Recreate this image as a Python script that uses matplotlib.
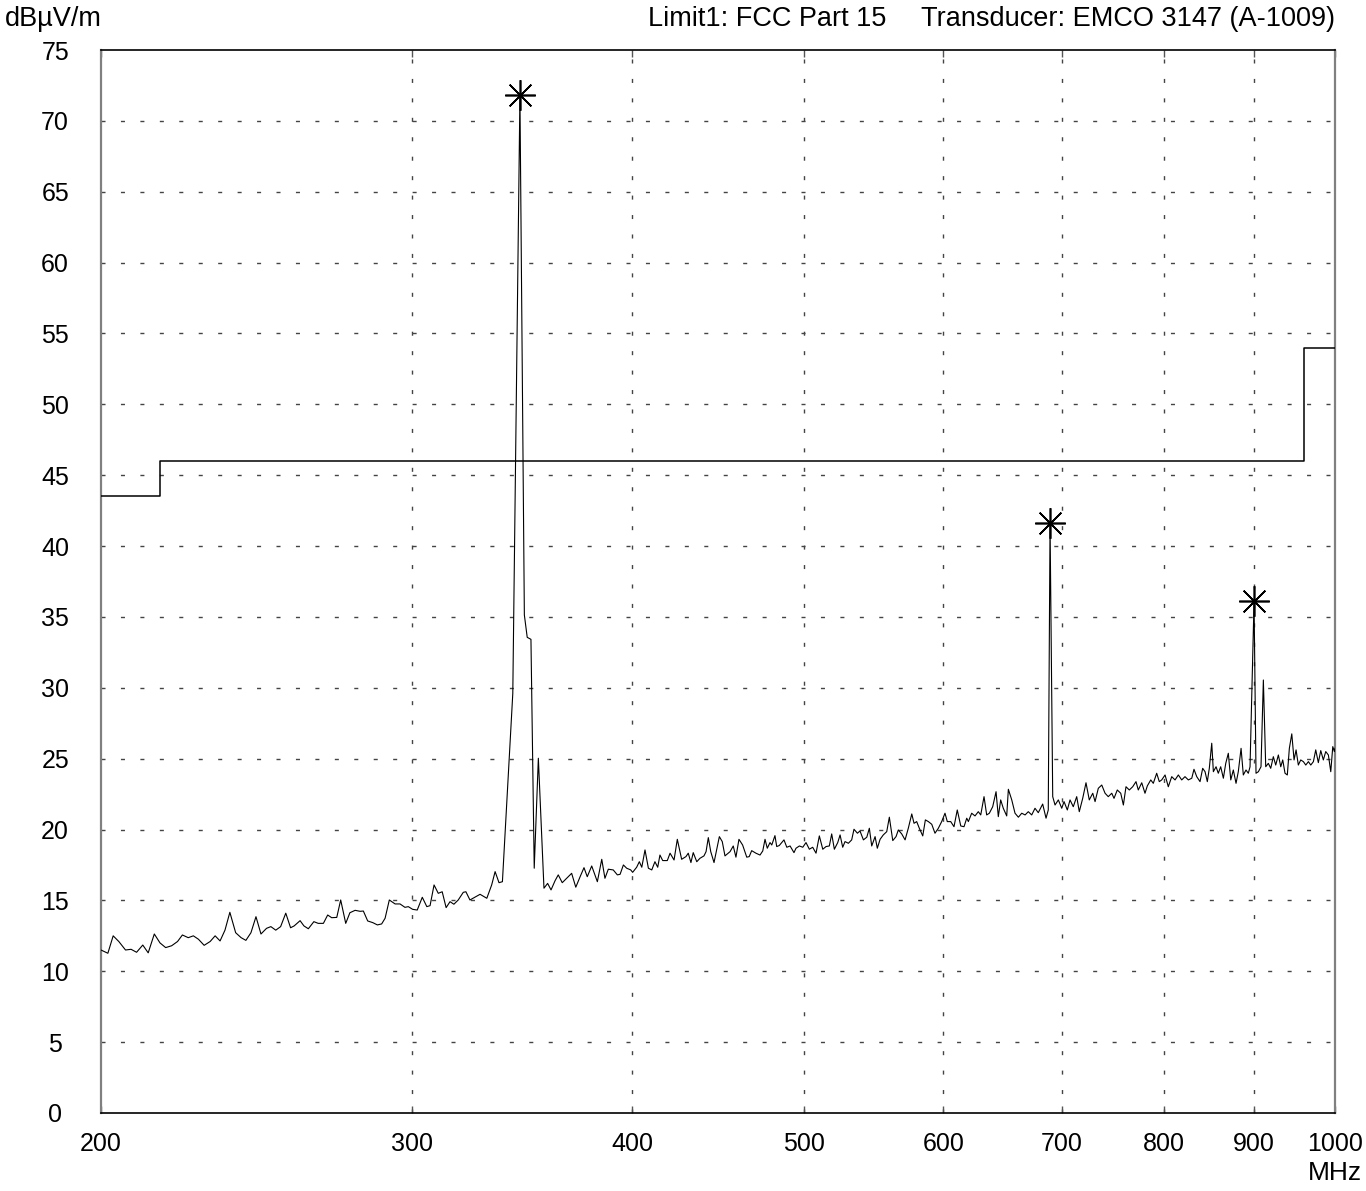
import matplotlib
matplotlib.use("Agg")
import numpy as np
import matplotlib.pyplot as plt

plt.rcParams['font.family'] = ['Liberation Sans', 'DejaVu Sans']

low_mhz = [200.0, 201.8, 203.2, 204.7, 206.5, 208.0, 209.5, 211.2, 212.7, 214.4,
           216.0, 217.6, 219.3, 221.0, 222.4, 224.1, 225.6, 227.1, 228.8, 230.6,
           232.1, 233.6, 235.1, 236.6, 238.4, 240.1, 241.6, 243.2, 244.8, 246.4,
           248.2, 249.6, 251.2, 252.8, 254.5, 256.1, 257.3, 259.3, 260.6, 262.1,
           264.0, 265.5, 267.3, 268.8, 270.2, 272.0, 273.4, 275.2, 276.7, 278.6,
           280.4, 281.6, 283.2, 285.1, 286.8, 288.4, 289.7, 291.3, 293.5, 295.4,
           297.3, 298.6, 300.3, 302.1, 304.1, 305.9, 307.2, 308.8, 310.5, 312.1,
           313.7, 315.3, 316.9, 318.7, 320.8, 321.9]
low_db = [11.5, 11.27, 12.5, 12.1, 11.5, 11.55, 11.34, 11.85, 11.3, 12.63,
          12.0, 11.67, 11.8, 12.1, 12.56, 12.37, 12.5, 12.26, 11.83, 12.1,
          12.5, 12.14, 12.9, 14.16, 12.72, 12.37, 12.18, 12.72, 13.85, 12.63,
          13.03, 13.15, 12.9, 13.15, 14.1, 13.07, 13.2, 13.57, 13.2, 13.0,
          13.5, 13.38, 13.38, 13.97, 13.78, 13.8, 15.03, 13.38, 14.13, 14.3,
          14.23, 14.25, 13.55, 13.43, 13.27, 13.34, 13.74, 15.03, 14.75, 14.75,
          14.51, 14.56, 14.37, 14.32, 15.22, 14.56, 14.63, 16.09, 15.5, 15.61,
          14.49, 14.91, 14.73, 15.03, 15.57, 15.61]

peak_mhz = [323.6, 327.9, 330.8, 332.9, 334.4, 336.1, 337.6, 342.2, 345.4, 347.4,
            348.7, 350.4, 351.9, 353.8, 356.4, 358.1, 359.7, 361.6, 363.1, 365.0,
            367.1, 369.5, 371.5]
peak_db = [15.03, 15.43, 15.15, 16.09, 17.03, 16.25, 16.32, 29.6, 71.8, 35.14,
           33.56, 33.42, 17.27, 25.03, 15.86, 16.2, 15.74, 16.39, 16.8, 16.25,
           16.56, 16.91, 15.93]

mid_mhz = [373.6, 375.5, 377.1, 379.3, 382.1, 384.3, 385.9, 387.6, 390.1, 392.2,
           393.6, 395.3, 397.0, 399.1, 400.1, 402.2, 403.6, 404.9, 406.6, 408.4,
           410.2, 411.9, 413.4, 414.6, 416.1, 418.6, 420.1, 422.3, 424.1, 426.5,
           428.9, 430.2, 431.7, 433.0, 435.0, 436.8, 439.1, 440.3, 441.6, 443.0,
           444.9, 448.0, 449.7, 451.3, 454.3, 456.2, 457.8, 459.6, 461.8, 464.3,
           465.8, 467.3, 469.9, 472.4, 474.1, 475.5, 476.9, 478.6, 479.7, 481.7,
           482.8, 484.4, 487.4, 489.2, 491.3, 493.8, 495.1, 497.3, 499.5, 501.6,
           503.8, 506.0, 508.2, 510.4, 512.7, 514.9, 517.1, 518.7, 520.5, 522.8,
           524.4, 526.2, 527.8, 530.1, 532.4, 534.0, 536.4, 538.2, 540.6, 543.0,
           544.8, 546.5, 548.9, 550.5, 552.5, 554.8, 557.3, 559.2, 561.7, 564.1,
           565.8, 568.3, 570.8, 573.2, 575.8, 577.5, 579.5, 581.5, 584.1, 586.1,
           588.4, 591.0, 593.5, 596.1, 598.7, 601.3, 603.1, 605.8, 608.4, 611.0,
           613.8, 616.4, 618.6]
mid_db = [16.67, 17.31, 16.67, 17.43, 16.32, 17.9, 16.56, 17.2, 17.15, 16.8,
          16.84, 17.5, 17.27, 17.15, 16.98, 17.34, 17.73, 17.34, 18.56, 17.27,
          17.15, 17.73, 17.34, 18.2, 17.81, 17.81, 18.33, 17.85, 19.31, 17.9,
          18.09, 18.33, 17.67, 18.37, 17.73, 17.97, 18.14, 18.44, 19.43, 18.44,
          17.67, 19.5, 19.15, 18.14, 18.44, 18.84, 18.05, 19.31, 18.91, 18.05,
          18.09, 18.51, 18.33, 18.2, 18.49, 19.31, 18.68, 19.08, 18.91, 19.57,
          18.8, 18.87, 19.27, 18.75, 18.84, 18.37, 18.68, 18.84, 18.75, 19.08,
          18.61, 18.75, 18.33, 19.55, 18.61, 18.8, 18.84, 19.69, 18.61, 19.08,
          19.62, 18.75, 19.15, 19.03, 19.27, 20.02, 19.74, 19.9, 19.27, 19.46,
          20.09, 18.84, 19.5, 18.68, 19.31, 19.62, 19.85, 20.87, 19.22, 19.5,
          19.97, 19.69, 19.27, 20.09, 21.1, 20.44, 20.56, 20.09, 19.55, 20.68,
          20.56, 20.37, 19.74, 20.09, 20.56, 21.15, 20.56, 20.56, 20.2, 21.38,
          20.25, 20.2, 20.8]

high_mhz = [619.9, 622.6, 625.3, 628.0, 630.0, 632.7, 634.9, 637.1, 639.9, 642.7,
            644.6, 646.6, 648.8, 651.7, 653.1, 656.0, 658.8, 661.7, 664.6, 667.5,
            670.3, 673.3, 676.2, 679.1, 683.0, 686.0, 688.0, 689.6, 692.0, 694.1,
            697.1, 700.2, 702.3, 705.3, 707.8, 710.8, 714.0, 716.4, 719.6, 722.7,
            725.8, 729.1, 731.3, 734.4, 737.7, 740.9, 744.0, 747.4, 749.6, 752.8,
            756.2, 758.8, 761.4, 764.7, 768.1, 771.4, 773.7, 777.2, 780.5, 782.9,
            786.4, 789.0, 792.5, 795.2, 797.7, 801.2, 804.6, 808.2, 811.7, 815.2,
            818.8, 822.3, 825.9, 829.6, 832.0, 835.0, 838.6, 841.5, 844.1, 846.6,
            848.8, 851.5, 853.3, 856.3, 858.8, 861.5, 864.5, 867.2, 870.1, 872.9,
            875.8, 878.9, 881.5, 884.7, 887.3, 890.4, 893.1, 895.1, 899.8, 902.1,
            904.9, 908.0, 910.8, 913.6, 916.7, 919.6, 922.7, 925.6, 928.8, 931.7,
            934.1, 936.9, 939.7, 942.2, 945.2, 948.0, 950.5, 953.3, 956.3, 959.6,
            962.6, 965.9, 968.9, 972.2, 975.2, 978.5, 981.6, 984.9, 988.0, 991.4,
            994.5, 997.1, 999.2, 1000.0]
high_db = [20.56, 21.15, 20.96, 21.26, 21.03, 22.32, 21.03, 21.15, 21.61, 22.67,
           20.91, 22.09, 21.5, 20.96, 22.84, 22.09, 21.15, 20.87, 21.15, 21.03,
           21.26, 21.03, 21.5, 21.19, 21.8, 20.8, 21.38, 41.6, 22.32, 21.73,
           22.09, 21.5, 21.97, 21.38, 22.09, 21.61, 22.32, 21.26, 22.2, 23.3,
           22.09, 22.56, 21.97, 22.91, 23.14, 22.56, 22.32, 22.56, 22.2, 22.79,
           22.56, 21.73, 23.02, 22.79, 23.02, 23.38, 22.79, 23.3, 22.56, 23.08,
           23.5, 23.26, 23.97, 23.38, 23.5, 23.85, 23.02, 23.73, 23.5, 23.85,
           23.5, 23.73, 23.5, 23.62, 24.25, 23.73, 23.38, 24.32, 24.08, 23.38,
           24.32, 26.09, 24.08, 24.43, 23.97, 24.43, 23.62, 24.67, 25.38, 23.5,
           24.2, 23.26, 24.08, 25.73, 23.85, 24.2, 23.97, 24.43, 36.1, 23.97,
           24.08, 24.43, 30.55, 24.43, 24.67, 24.32, 25.14, 24.55, 25.26, 24.43,
           24.91, 23.97, 23.85, 25.73, 26.75, 24.91, 25.62, 24.55, 24.91, 24.79,
           24.55, 24.79, 24.55, 24.79, 25.62, 24.72, 25.57, 24.91, 25.5, 25.26,
           24.08, 25.85, 25.5, 25.73]

## Limit line FCC Part 15 (step edges)
limit_mhz = [200, 216, 216, 960, 960, 1000]
limit_db = [43.5, 43.5, 46.0, 46.0, 54.0, 54.0]

## Marked peaks
marker_mhz = [345.4, 689.6, 899.8]
marker_db = [71.8, 41.6, 36.1]

x_ticks = [200, 300, 400, 500, 600, 700, 800, 900, 1000]
y_ticks = list(range(0, 80, 5))

freq = np.concatenate([low_mhz, peak_mhz, mid_mhz, high_mhz])
level = np.concatenate([low_db, peak_db, mid_db, high_db])

W, H = 1366, 1191
fig = plt.figure(figsize=(W / 100, H / 100), dpi=100)
ax = fig.add_axes([101 / W, 1 - 1113 / H, 1234 / W, 1063 / H])

ax.plot(limit_mhz, limit_db, color='black', lw=1.1, zorder=3)
ax.plot(freq, level, color='black', lw=0.8, zorder=4)
ax.plot(marker_mhz, marker_db, ls='none', marker=(8, 2, 0), ms=22,
        mec='black', mew=1.2, zorder=5)

ax.set_xscale('log')
ax.set_xlim(200, 1000)
ax.set_ylim(0, 75)
ax.set_xticks(x_ticks)
ax.set_xticklabels([str(t) for t in x_ticks])
ax.xaxis.set_minor_locator(matplotlib.ticker.NullLocator())
ax.set_yticks(y_ticks)
ax.set_yticklabels([str(t) for t in y_ticks])

ax.grid(True, color='#444444', lw=1.0, linestyle=(0, (2.9, 11.1)))
# no grid on the frame itself
xg = ax.xaxis.get_gridlines()
xg[0].set_visible(False)
xg[-1].set_visible(False)
yg = ax.yaxis.get_gridlines()
yg[0].set_visible(False)
yg[-1].set_visible(False)

ax.tick_params(axis='x', direction='in', length=5, width=1, color='#555555',
               top=True, labelsize=18, pad=14)
ax.tick_params(axis='y', length=0, labelsize=18, pad=33)
for lab in ax.get_yticklabels():
    lab.set_horizontalalignment('center')

for side in ['top', 'bottom']:
    ax.spines[side].set_color('black')
    ax.spines[side].set_linewidth(1.2)
for side in ['left', 'right']:
    ax.spines[side].set_color('#808080')
    ax.spines[side].set_linewidth(1.6)

fig.text(5 / W, 1 - 19 / H, 'dBµV/m', fontsize=19.5, ha='left', va='center')
fig.text(886 / W, 1 - 19 / H, 'Limit1: FCC Part 15', fontsize=19.5,
         ha='right', va='center')
fig.text(1335 / W, 1 - 19 / H, 'Transducer: EMCO 3147 (A-1009)', fontsize=19.5,
         ha='right', va='center')
fig.text(1362 / W, 1 - 1173 / H, 'MHz', fontsize=19, ha='right', va='center')

fig.savefig('out.png', dpi=100)
